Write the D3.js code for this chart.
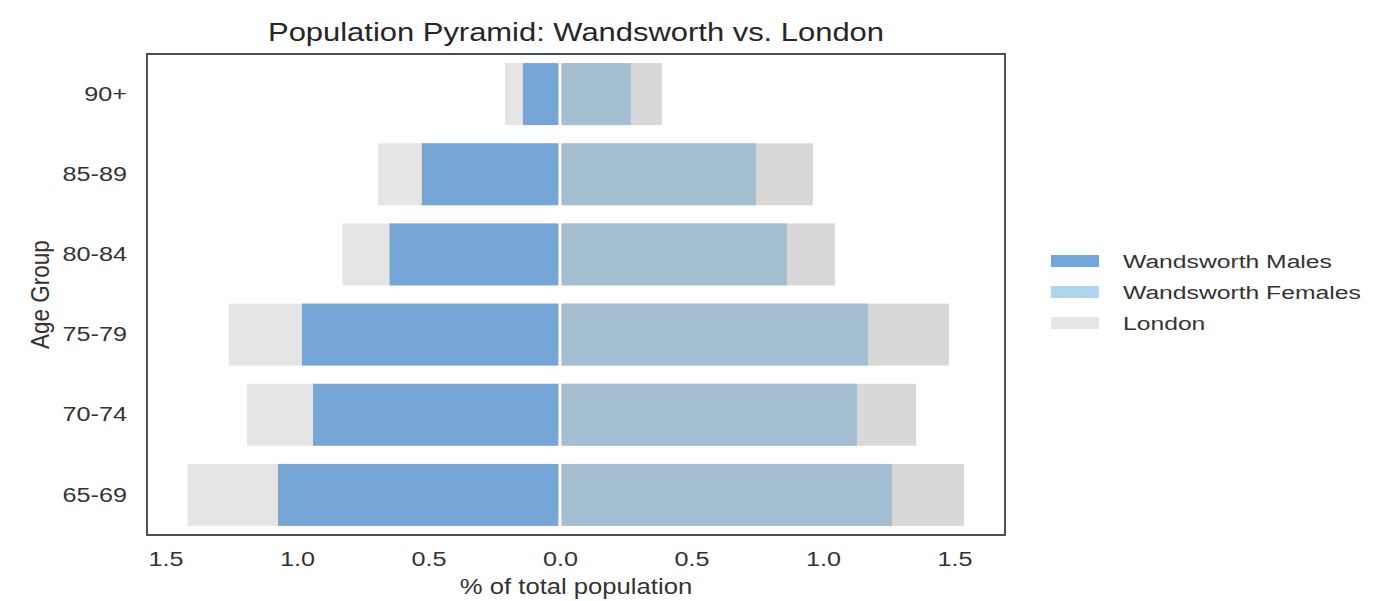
<!DOCTYPE html>
<html>
<head>
<meta charset="utf-8">
<script src="https://cdn.jsdelivr.net/npm/d3@7"></script>
<style>
  html, body { margin: 0; padding: 0; background: #ffffff; }
  text { font-family: "Liberation Sans", Arial, sans-serif; fill: #333333; }
</style>
</head>
<body>
<svg id="chart" width="1380" height="601"></svg>
<script>
// ---- data (top-to-bottom order as displayed) ----
const ageGroups = ["90+", "85-89", "80-84", "75-79", "70-74", "65-69"];
const wandsworthMales   = [0.141, 0.525, 0.648, 0.981, 0.939, 1.072];
const wandsworthFemales = [0.270, 0.745, 0.863, 1.171, 1.129, 1.262];
const londonMales       = [0.209, 0.692, 0.827, 1.259, 1.190, 1.416];
const londonFemales     = [0.388, 0.962, 1.046, 1.479, 1.354, 1.536];
const xTickValues = [-1.5, -1.0, -0.5, 0, 0.5, 1.0, 1.5];
const legendLabels = ["Wandsworth Males", "Wandsworth Females", "London"];
const legendColors = ["#6fa8dc", "#aed6f1", "#e5e5e5"];

const svg = d3.select("#chart");
const plot = { left: 147, right: 1005, top: 54, bottom: 535 };
const stretch = 1.2; // horizontal text stretch seen in the reference

const x = d3.scaleLinear().domain([-1.570, 1.692]).range([plot.left, plot.right]);
const y = d3.scaleBand().domain(ageGroups).range([plot.top, plot.bottom])
  .paddingInner(0.227).paddingOuter(0.1135);

const rows = ageGroups.map((g, i) => ({
  g, wm: wandsworthMales[i], wf: wandsworthFemales[i], lm: londonMales[i], lf: londonFemales[i]
}));

const g = svg.append("g");
const gap = 1.6;

// London bars (background)
g.selectAll(".lm").data(rows).join("rect")
  .attr("x", d => x(-d.lm)).attr("y", d => y(d.g))
  .attr("width", d => x(0) - x(-d.lm) - gap).attr("height", y.bandwidth())
  .attr("fill", "#e5e5e5");
g.selectAll(".lf").data(rows).join("rect")
  .attr("x", x(0) + gap).attr("y", d => y(d.g))
  .attr("width", d => x(d.lf) - x(0) - gap).attr("height", y.bandwidth())
  .attr("fill", "#d8d8d8");

// Wandsworth bars
g.selectAll(".wm").data(rows).join("rect")
  .attr("x", d => x(-d.wm)).attr("y", d => y(d.g))
  .attr("width", d => x(0) - x(-d.wm) - gap).attr("height", y.bandwidth())
  .attr("fill", "#75a6d6");
g.selectAll(".wf").data(rows).join("rect")
  .attr("x", x(0) + gap).attr("y", d => y(d.g))
  .attr("width", d => x(d.wf) - x(0) - gap).attr("height", y.bandwidth())
  .attr("fill", "#a5bfd2");

// frame
svg.append("rect")
  .attr("x", plot.left).attr("y", plot.top)
  .attr("width", plot.right - plot.left).attr("height", plot.bottom - plot.top)
  .attr("fill", "none").attr("stroke", "#4f4f4f").attr("stroke-width", 2);

// x axis
const xAxis = d3.axisBottom(x).tickValues(xTickValues).tickSize(0).tickPadding(16)
  .tickFormat(v => Math.abs(v).toFixed(1));
const xg = svg.append("g").attr("transform", `translate(0,${plot.bottom})`).call(xAxis);
xg.select(".domain").remove();
xg.selectAll("text")
  .style("font-size", "21px").style("font-family", "Liberation Sans, Arial, sans-serif")
  .attr("fill", "#333")
  .each(function () {
    const t = d3.select(this);
    const yy = +t.attr("y");
    t.attr("y", 0).attr("transform", `translate(0,${yy}) scale(${stretch},1)`);
  });

// y axis
const yAxis = d3.axisLeft(y).tickSize(0).tickPadding(20);
const yg = svg.append("g").attr("transform", `translate(${plot.left},0)`).call(yAxis);
yg.select(".domain").remove();
yg.selectAll("text")
  .style("font-size", "21px").style("font-family", "Liberation Sans, Arial, sans-serif")
  .attr("fill", "#333")
  .each(function () {
    const t = d3.select(this);
    const xx = +t.attr("x");
    t.attr("x", 0).attr("transform", `translate(${xx},0) scale(${stretch},1)`);
  });

// title
svg.append("text")
  .attr("transform", `translate(${576},41) scale(1.19,1)`)
  .attr("text-anchor", "middle").style("font-size", "26px").style("fill", "#262626")
  .text("Population Pyramid: Wandsworth vs. London");

// axis labels
svg.append("text")
  .attr("transform", `translate(${576},594) scale(1.14,1)`)
  .attr("text-anchor", "middle").style("font-size", "22.5px")
  .text("% of total population");
svg.append("text")
  .attr("transform", `translate(49,${(plot.top + plot.bottom) / 2}) scale(1.15,1) rotate(-90)`)
  .attr("text-anchor", "middle").style("font-size", "22.5px")
  .text("Age Group");

// legend
const lg = svg.append("g").attr("transform", "translate(1051,255)");
const items = lg.selectAll("g").data(legendLabels).join("g")
  .attr("transform", (d, i) => `translate(0,${i * 31})`);
items.append("rect").attr("width", 48).attr("height", 12)
  .attr("fill", (d, i) => legendColors[i]);
items.append("text")
  .attr("transform", "translate(72,13) scale(1.3,1)")
  .style("font-size", "19px").text(d => d);
</script>
</body>
</html>
